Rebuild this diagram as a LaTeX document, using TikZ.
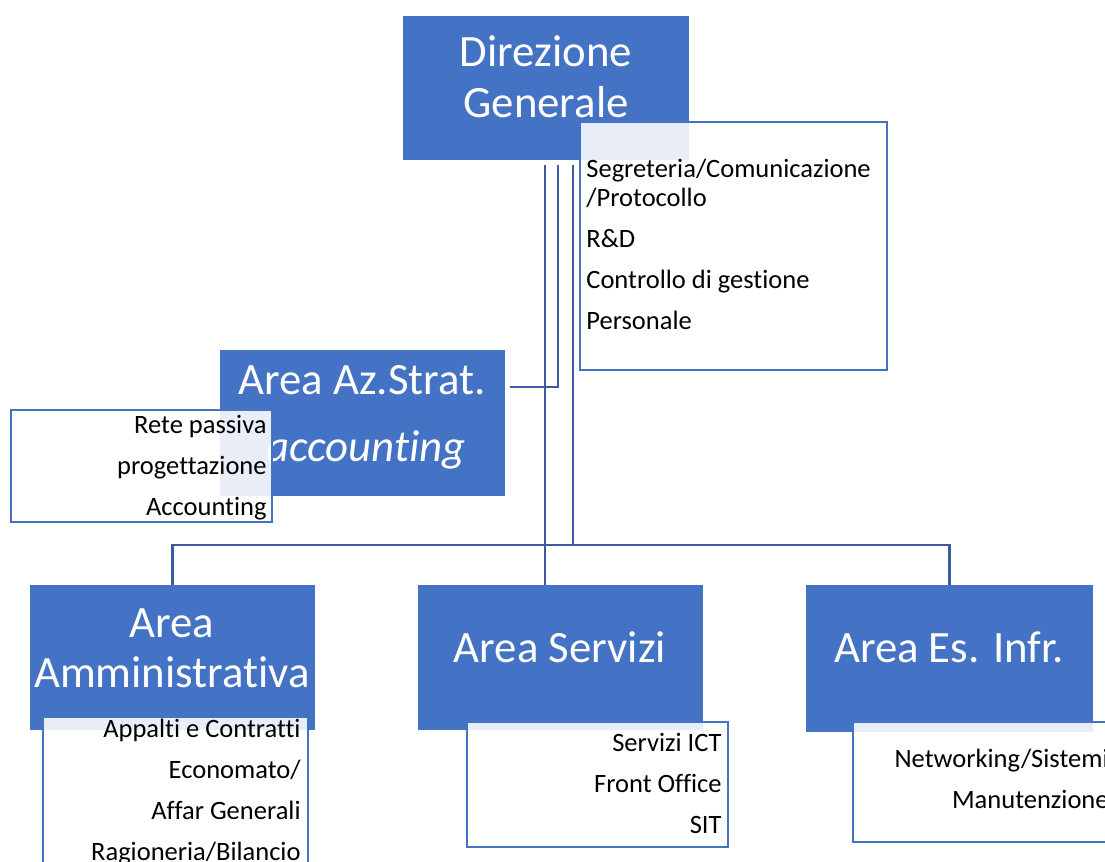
\documentclass[tikz,border=0pt]{standalone}
\usepackage{fontspec}
\setmainfont[Ligatures=NoCommon]{Carlito}
\usetikzlibrary{fit,calc}

\definecolor{areablue}{RGB}{68,114,196}
\definecolor{linkblue}{RGB}{59,91,163}

\begin{document}
\begin{tikzpicture}[
    x=0.5pt, y=-0.5pt,
    areabox/.style={fill=areablue, inner sep=0pt},
    listbox/.style={draw=areablue, line width=1.4pt, fill=white, fill opacity=0.88, inner sep=0pt},
    link/.style={draw=linkblue, line width=1.1pt},
    areatext/.style={text=white, inner sep=0pt, align=center, font=\fontsize{22.4}{25}\selectfont},
    listtext/.style={text=black, inner sep=0pt, font=\fontsize{13.25}{20.5}\selectfont}
  ]

  \useasboundingbox (0,0) rectangle (1105,862);
  \clip (0,0) rectangle (1105,862);

  % top (text nodes sit on the baseline of their last line)
  \node[areabox, fit={(403,16) (689,160)}] (dg) {};
  \node[areatext, anchor=base] (dgname) at (546,117) {Direzione\\Generale};

  \coordinate (dgl) at ($(dg.south)+(-1,5)$);
  \coordinate (dgm) at ($(dg.south)+(12,5)$);
  \coordinate (dgr) at ($(dg.south)+(27,5)$);

  \node[listbox, fit={(580,122) (887,370)}] (seg) {};
  \node[listtext, align=left, anchor=base west] (seglist) at (586,329)
    {Segreteria/Comunicazione\\[-6pt]/Protocollo\\R\&D\\Controllo di gestione\\Personale};

  % middle
  \node[areabox, fit={(220,350) (505,496)}] (az) {};
  \node[areatext, anchor=base] (azname) at (362,394) {Area Az.Strat.};
  \node[areatext, anchor=base, font=\fontsize{22.4}{25}\selectfont\itshape] (azsub) at (366,461) {accounting};

  \node[listbox, fit={(11,410) (272,522)}] (rete) {};
  \node[listtext, align=right, anchor=base east] (retelist) at (267,515)
    {Rete passiva\\progettazione\\Accounting};

  % bottom
  \node[areabox, fit={(30,585) (315,730)}] (adm) {};
  \node[areatext, anchor=base] (admname) at (172,687) {Area\\Amministrativa};

  \node[areabox, fit={(418,585) (703,730)}] (serv) {};
  \node[areatext, anchor=base] (servname) at (560,662) {Area Servizi};

  \node[areabox, fit={(806,585) (1093,732)}] (inf) {};
  \node[areatext, anchor=base] (infname) at (949,662) {Area Es. Infr.};

  \coordinate (bus) at ($(adm.north)+(0,-40)$);

  \draw[link] (dgl) -- (dgl |- serv.north);
  \draw[link] (dgm) |- ($(az.east)+(5,-36)$);
  \draw[link] (dgr) -- (dgr |- bus);
  \draw[link] (adm.north) -- (bus) -| (inf.north);

  \node[listbox, fit={(43,717) (308,880)}] (admsub) {};
  \node[listtext, align=right, anchor=base east] (admlist) at (301,860)
    {Appalti e Contratti\\Economato/\\Affar Generali\\Ragioneria/Bilancio};

  \node[listbox, fit={(467,722) (728,847)}] (servsub) {};
  \node[listtext, align=right, anchor=base east] (servlist) at (722,833)
    {Servizi ICT\\Front Office\\SIT};

  \node[listbox, fit={(853,722) (1130,842)}] (infsub) {};
  \node[listtext, align=right, anchor=base east] (inflist) at (1109,808)
    {Networking/Sistemi\\Manutenzione};

\end{tikzpicture}
\end{document}
